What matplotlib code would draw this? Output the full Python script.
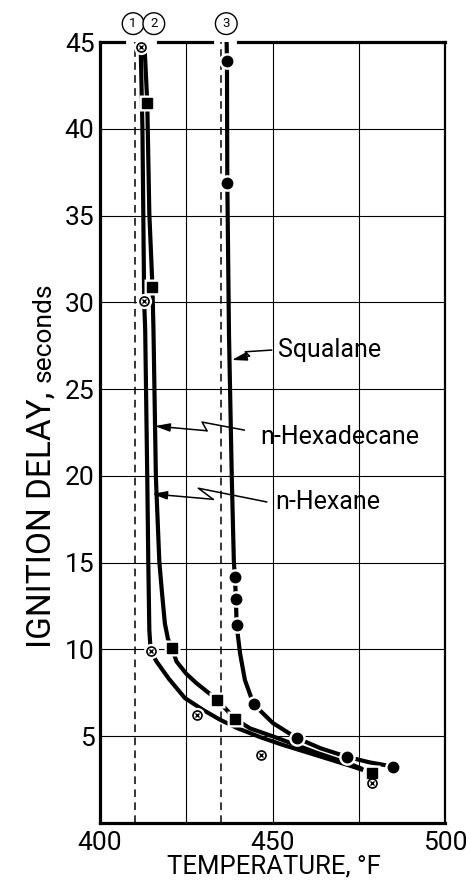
import matplotlib
matplotlib.use('Agg')
import matplotlib.pyplot as plt

plt.rcParams['font.family'] = ['Roboto', 'DejaVu Sans']
plt.rcParams['font.weight'] = 'normal'

# ---------------- data ----------------
x_ticks = [400, 450, 500]
x_grid = [425, 450, 475]
y_ticks = [5, 10, 15, 20, 25, 30, 35, 40, 45]
y_grid = [5, 10, 15, 20, 25, 30, 35, 40]
ref_lines_T = [410, 435]          # dashed reference temperatures
ref_labels = ['1', '2', '3']
ref_label_T = [409.6, 415.6, 436.6]

# measured points
hexane_T = [411.8, 412.8, 414.7, 428.2, 446.7, 478.7]
hexane_delay = [44.7, 30.1, 9.9, 6.2, 3.9, 2.3]
hexadecane_T = [413.7, 415.2, 420.8, 434.0, 439.1, 478.7]
hexadecane_delay = [41.5, 30.9, 10.1, 7.1, 6.0, 2.9]
squalane_T = [436.8, 436.8, 439.1, 439.4, 439.6, 444.5, 457.0, 471.5, 485.0]
squalane_delay = [43.9, 36.9, 14.2, 12.9, 11.4, 6.85, 4.9, 3.8, 3.25]

# hand-drawn curves
hexane_curve_T = [411.8, 412.3, 412.8, 413.1, 413.7, 414.0, 414.3, 414.7, 416.4, 420.0,
                  424.6, 430.0, 434.8, 440.0, 446.4, 453.0, 462.8, 472.5, 476.3]
hexane_curve_delay = [44.7, 40.0, 30.1, 28.4, 19.9, 15.0, 11.1, 9.9, 9.3, 8.3,
                      7.2, 6.5, 5.95, 5.45, 4.95, 4.5, 3.9, 3.3, 3.05]
hexadecane_curve_T = [413.0, 413.7, 414.3, 415.2, 415.5, 416.2, 417.2, 418.0, 418.8, 419.7,
                      420.8, 422.2, 425.0, 428.0, 434.0, 439.1, 443.5, 450.0, 462.8, 472.5,
                      476.2]
hexadecane_curve_delay = [44.4, 41.5, 35.1, 30.9, 28.4, 19.9, 15.05, 13.2, 11.5, 10.6,
                          10.1, 9.3, 8.6, 8.05, 7.1, 6.0, 5.45, 5.0, 4.05, 3.4,
                          3.1]
squalane_curve_T = [436.7, 436.8, 436.9, 437.4, 438.2, 438.8, 439.1, 439.4, 439.6, 440.6,
                    442.0, 444.5, 450.1, 457.0, 464.0, 471.5, 478.0, 485.0]
squalane_curve_delay = [45.0, 43.9, 36.9, 28.0, 19.9, 15.05, 14.2, 12.9, 11.4, 9.77,
                        8.24, 6.85, 5.76, 4.9, 4.3, 3.82, 3.5, 3.25]

# curve labels with leader lines: tip, kink points, text anchor
labels = ['Squalane', 'n-Hexadecane', 'n-Hexane']
label_T = [451.6, 446.5, 450.7]
label_delay = [27.25, 22.26, 18.51]
leader_T = [[438.2, 443.3, 442.1, 449.7],
            [415.9, 431.0, 429.6, 441.8],
            [415.1, 432.8, 428.5, 448.3]]
leader_delay = [[26.68, 26.91, 27.15, 27.25],
                [22.87, 22.60, 23.10, 22.64],
                [18.96, 18.65, 19.29, 18.50]]

# ---------------- figure ----------------
W, H = 466, 896
fig = plt.figure(figsize=(W / 100, H / 100), dpi=100)
ax = fig.add_axes([100 / W, 73 / H, 345 / W, 781 / H])
ax.set_xlim(400, 500)
ax.set_ylim(0, 45)

for s in ['left', 'bottom']:
    ax.spines[s].set_linewidth(2.3)
ax.spines['right'].set_linewidth(1.6)
ax.spines['top'].set_visible(False)
# top border with gaps for the circled labels
for a, b in [(0.0, 0.07), (0.168, 0.325), (0.40, 1.0)]:
    ax.axhline(45, xmin=a, xmax=b, color='black', lw=2.3, clip_on=False, zorder=6)

for g in x_grid:
    ax.axvline(g, color='black', lw=0.8, zorder=1)
for g in y_grid:
    ax.axhline(g, color='black', lw=0.8, zorder=1)
for r in ref_lines_T:
    ax.axvline(r, color='black', lw=1.1, ls=(0, (5, 3.5)), zorder=1)

trans = ax.get_xaxis_transform()
for lab, t in zip(ref_labels, ref_label_T):
    ax.text(t, 1.0235, lab, transform=trans, ha='center', va='center', fontsize=9.5,
            bbox=dict(boxstyle='circle,pad=0.33', fc='white', ec='black', lw=1.0),
            clip_on=False)

ax.set_xticks(x_ticks)
ax.set_xticklabels([str(v) for v in x_ticks])
ax.set_yticks(y_ticks)
ax.set_yticklabels([str(v) for v in y_ticks])
ax.tick_params(length=0, labelsize=19)
ax.tick_params(axis='x', pad=6)
ax.tick_params(axis='y', pad=4)

lw = 3.0
ax.plot(hexane_curve_T, hexane_curve_delay, color='black', lw=lw, zorder=3,
        solid_capstyle='butt', solid_joinstyle='round')
ax.plot(hexadecane_curve_T, hexadecane_curve_delay, color='black', lw=lw, zorder=3,
        solid_capstyle='butt', solid_joinstyle='round')
ax.plot(squalane_curve_T, squalane_curve_delay, color='black', lw=lw, zorder=3,
        solid_capstyle='butt', solid_joinstyle='round')

# white halos giving the gaps around markers
ax.plot(hexane_T, hexane_delay, 'o', ms=11, mfc='white', mec='none', zorder=4)
ax.plot(hexadecane_T, hexadecane_delay, 's', ms=11, mfc='white', mec='none', zorder=4)
ax.plot(squalane_T, squalane_delay, 'o', ms=12, mfc='white', mec='none', zorder=4)

ax.plot(hexane_T, hexane_delay, 'o', ms=6.5, mfc='white', mec='black', mew=1.2, zorder=5)
ax.plot(hexane_T, hexane_delay, 'x', ms=3.5, mec='black', mew=1.0, zorder=5)
ax.plot(hexadecane_T, hexadecane_delay, 's', ms=7, color='black', zorder=5)
ax.plot(squalane_T, squalane_delay, 'o', ms=7.5, color='black', zorder=5)

for lab, tx, ty, lt, ld in zip(labels, label_T, label_delay, leader_T, leader_delay):
    ax.plot(lt[1:], ld[1:], color='black', lw=1.1, zorder=6)
    ax.annotate('', xy=(lt[0], ld[0]), xytext=(lt[1], ld[1]),
                arrowprops=dict(arrowstyle='-|>,head_length=0.9,head_width=0.25',
                                color='black', lw=1.1, shrinkA=0, shrinkB=0),
                zorder=6)
    ax.text(tx, ty, lab, ha='left', va='center', fontsize=18, zorder=7)

fig.text(274 / W, (H - 866) / H, 'TEMPERATURE, °F', ha='center', va='center', fontsize=18.5)

t1 = fig.text(51 / W, (H - 648) / H, 'IGNITION DELAY,', rotation=90, rotation_mode='anchor',
              ha='left', va='baseline', fontsize=24)
fig.canvas.draw()
bb = t1.get_window_extent()
fig.text(51 / W, (bb.y1 + 10) / H, 'seconds', rotation=90, rotation_mode='anchor',
         ha='left', va='baseline', fontsize=19)

fig.savefig('out.png', dpi=100)
